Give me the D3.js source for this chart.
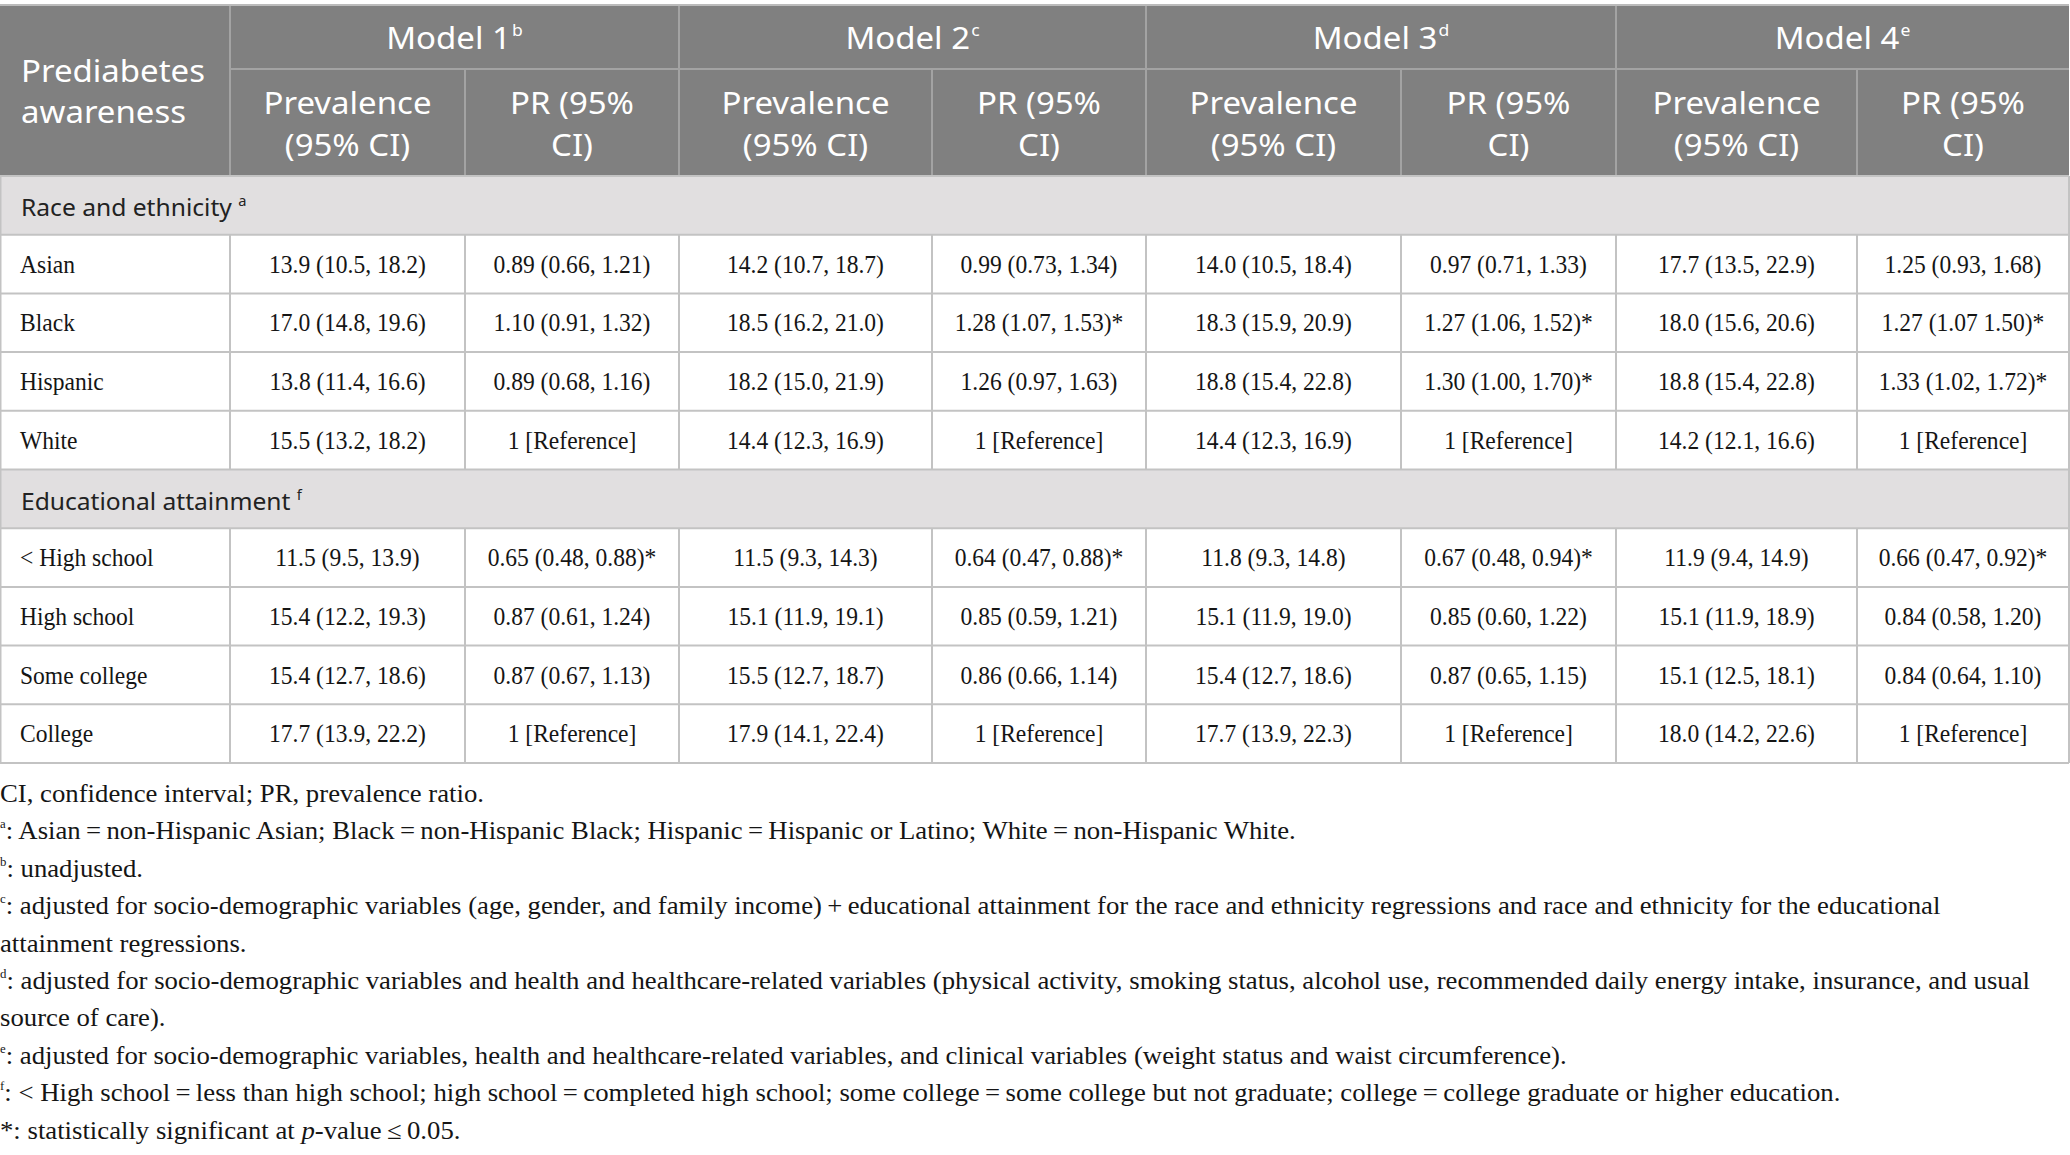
<!DOCTYPE html>
<html><head><meta charset="utf-8">
<script src="https://cdn.jsdelivr.net/npm/d3@7"></script>
<style>body{margin:0;background:#fff}svg{display:block}</style>
</head><body><svg id="c" width="2070" height="1155"></svg>
<script>
// ---------- data ----------
const models = ["Model 1", "Model 2", "Model 3", "Model 4"];
const modelSup = ["b", "c", "d", "e"];
const subHeaders = [["Prevalence", "(95% CI)"], ["PR (95%", "CI)"]];
const stubHeader = ["Prediabetes", "awareness"];
const sectionNames = ["Race and ethnicity", "Educational attainment"];
const sectionSup = ["a", "f"];
const raceRows = ["Asian", "Black", "Hispanic", "White"];
const eduRows = ["< High school", "High school", "Some college", "College"];

const asian    = ["13.9 (10.5, 18.2)", "0.89 (0.66, 1.21)", "14.2 (10.7, 18.7)", "0.99 (0.73, 1.34)", "14.0 (10.5, 18.4)", "0.97 (0.71, 1.33)", "17.7 (13.5, 22.9)", "1.25 (0.93, 1.68)"];
const black    = ["17.0 (14.8, 19.6)", "1.10 (0.91, 1.32)", "18.5 (16.2, 21.0)", "1.28 (1.07, 1.53)*", "18.3 (15.9, 20.9)", "1.27 (1.06, 1.52)*", "18.0 (15.6, 20.6)", "1.27 (1.07 1.50)*"];
const hispanic = ["13.8 (11.4, 16.6)", "0.89 (0.68, 1.16)", "18.2 (15.0, 21.9)", "1.26 (0.97, 1.63)", "18.8 (15.4, 22.8)", "1.30 (1.00, 1.70)*", "18.8 (15.4, 22.8)", "1.33 (1.02, 1.72)*"];
const white    = ["15.5 (13.2, 18.2)", "1 [Reference]", "14.4 (12.3, 16.9)", "1 [Reference]", "14.4 (12.3, 16.9)", "1 [Reference]", "14.2 (12.1, 16.6)", "1 [Reference]"];
const lessHS   = ["11.5 (9.5, 13.9)", "0.65 (0.48, 0.88)*", "11.5 (9.3, 14.3)", "0.64 (0.47, 0.88)*", "11.8 (9.3, 14.8)", "0.67 (0.48, 0.94)*", "11.9 (9.4, 14.9)", "0.66 (0.47, 0.92)*"];
const highSch  = ["15.4 (12.2, 19.3)", "0.87 (0.61, 1.24)", "15.1 (11.9, 19.1)", "0.85 (0.59, 1.21)", "15.1 (11.9, 19.0)", "0.85 (0.60, 1.22)", "15.1 (11.9, 18.9)", "0.84 (0.58, 1.20)"];
const someCol  = ["15.4 (12.7, 18.6)", "0.87 (0.67, 1.13)", "15.5 (12.7, 18.7)", "0.86 (0.66, 1.14)", "15.4 (12.7, 18.6)", "0.87 (0.65, 1.15)", "15.1 (12.5, 18.1)", "0.84 (0.64, 1.10)"];
const college  = ["17.7 (13.9, 22.2)", "1 [Reference]", "17.9 (14.1, 22.4)", "1 [Reference]", "17.7 (13.9, 22.3)", "1 [Reference]", "18.0 (14.2, 22.6)", "1 [Reference]"];

const raceValues = [asian, black, hispanic, white];
const eduValues = [lessHS, highSch, someCol, college];

const eq = "\u2009=\u2009";
const footnotes = [
  {sup: "", text: "CI, confidence interval; PR, prevalence ratio."},
  {sup: "a", text: ": Asian" + eq + "non-Hispanic Asian; Black" + eq + "non-Hispanic Black; Hispanic" + eq + "Hispanic or Latino; White" + eq + "non-Hispanic White."},
  {sup: "b", text: ": unadjusted."},
  {sup: "c", text: ": adjusted for socio-demographic variables (age, gender, and family income)\u2009+\u2009educational attainment for the race and ethnicity regressions and race and ethnicity for the educational"},
  {sup: "", text: "attainment regressions."},
  {sup: "d", text: ": adjusted for socio-demographic variables and health and healthcare-related variables (physical activity, smoking status, alcohol use, recommended daily energy intake, insurance, and usual"},
  {sup: "", text: "source of care)."},
  {sup: "e", text: ": adjusted for socio-demographic variables, health and healthcare-related variables, and clinical variables (weight status and waist circumference)."},
  {sup: "f", text: ": < High school" + eq + "less than high school; high school" + eq + "completed high school; some college" + eq + "some college but not graduate; college" + eq + "college graduate or higher education."},
  {sup: "", text: "*: statistically significant at ", italic: "p", tail: "-value\u2009\u2264\u20090.05."}
];

// ---------- layout ----------
const W = 2070;
const SANS = "'Noto Sans', 'Open Sans', sans-serif";
const SERIF = "'Liberation Serif', 'DejaVu Serif', serif";
const colEdges = [0, 230, 465, 679, 932, 1146, 1401, 1616, 1857, 2069];
const headTop = 5, headMid = 69, headBot = 176, tableBot = 763;
const HEAD_BG = "#808080", HEAD_LINE = "#a3a3a3", SEC_BG = "#e1dfe0", LINE = "#c3c3c3";
const INK = "#151515";

const svg = d3.select("#c");
svg.append("rect").attr("width", W).attr("height", 1155).attr("fill", "#fff");

// body rows through a band scale
const bodyRows = [];
sectionNames.forEach((s, si) => {
  bodyRows.push({type: "section", label: s, sup: sectionSup[si]});
  const labels = si === 0 ? raceRows : eduRows;
  const vals = si === 0 ? raceValues : eduValues;
  labels.forEach((l, i) => bodyRows.push({type: "data", label: l, values: vals[i]}));
});
const y = d3.scaleBand().domain(d3.range(bodyRows.length)).range([headBot, tableBot]).paddingInner(0).paddingOuter(0);
const colIndex = d3.range(colEdges.length - 1);
const xL = d3.scaleOrdinal().domain(colIndex).range(colEdges.slice(0, -1));
const xR = d3.scaleOrdinal().domain(colIndex).range(colEdges.slice(1));
const xC = c => (xL(c) + xR(c)) / 2;

// condensation factors (reference typeface is narrower than the installed ones)
function measure(str, font, size) {
  const t = svg.append("text").attr("font-family", font).attr("font-size", size).text(str);
  const w = t.node().getComputedTextLength();
  t.remove();
  return w;
}
const SERIF_SIZE = 24.5;
const kSerif = 157 / measure("15.4 (12.2, 19.3)", SERIF, SERIF_SIZE);
const FOOT_SIZE = 25;
const kFoot = 2038 / measure("d" + footnotes[5].text, SERIF, FOOT_SIZE);
const HEAD_SIZE = 30;
const kHead = 168 / measure("Prevalence", SANS, HEAD_SIZE);
const SEC_SIZE = 23.5;
const kSec = 211 / measure("Race and ethnicity", SANS, SEC_SIZE);

// ---------- header ----------
const head = svg.append("g");
head.append("rect").attr("x", 0).attr("y", headTop).attr("width", W - 1).attr("height", headBot - headTop).attr("fill", HEAD_BG);
head.append("line").attr("x1", colEdges[1]).attr("x2", colEdges[9]).attr("y1", headMid).attr("y2", headMid)
  .attr("stroke", HEAD_LINE).attr("stroke-width", 2);
head.selectAll("line.v").data(colIndex.slice(1)).join("line").attr("class", "v")
  .attr("x1", c => xL(c)).attr("x2", c => xL(c))
  .attr("y1", c => (c % 2 === 1) ? headTop : headMid).attr("y2", headBot)
  .attr("stroke", HEAD_LINE).attr("stroke-width", 2);

// stub header
head.selectAll("text.stub").data(stubHeader).join("text").attr("class", "stub")
  .attr("transform", (d, i) => `translate(21,${82 + i * 41}) scale(${kHead},1)`)
  .attr("font-family", SANS).attr("font-size", HEAD_SIZE).attr("fill", "#fff").text(d => d);

// model headers
const mh = head.selectAll("text.model").data(models).join("text").attr("class", "model")
  .attr("transform", (d, i) => `translate(${(xL(1 + 2 * i) + xR(2 + 2 * i)) / 2},49) scale(${kHead},1)`)
  .attr("text-anchor", "middle").attr("font-family", SANS).attr("font-size", HEAD_SIZE).attr("fill", "#fff");
mh.append("tspan").text(d => d);
mh.append("tspan").attr("font-size", 16).attr("dy", -13).attr("dx", 1).text((d, i) => modelSup[i]);

// sub headers
const subs = [];
models.forEach((m, i) => subHeaders.forEach((s, j) => s.forEach((line, k) => subs.push({col: 1 + 2 * i + j, line, k}))));
head.selectAll("text.sub").data(subs).join("text").attr("class", "sub")
  .attr("transform", d => `translate(${xC(d.col)},${114 + d.k * 42}) scale(${kHead},1)`)
  .attr("text-anchor", "middle").attr("font-family", SANS).attr("font-size", HEAD_SIZE).attr("fill", "#fff")
  .text(d => d.line);

// ---------- body ----------
const body = svg.append("g");
const indexed = bodyRows.map((r, i) => ({...r, i}));
body.selectAll("rect.sec").data(indexed.filter(r => r.type === "section")).join("rect")
  .attr("class", "sec").attr("x", 0).attr("width", W - 1).attr("y", d => y(d.i)).attr("height", y.bandwidth())
  .attr("fill", SEC_BG);

body.selectAll("line.h").data(d3.range(bodyRows.length + 1)).join("line").attr("class", "h")
  .attr("x1", 0).attr("x2", W - 1)
  .attr("y1", i => i < bodyRows.length ? y(i) : tableBot).attr("y2", i => i < bodyRows.length ? y(i) : tableBot)
  .attr("stroke", LINE).attr("stroke-width", 2);

const vSegs = [];
indexed.forEach(r => { if (r.type === "data") colIndex.slice(1).forEach(c => vSegs.push({i: r.i, c})); });
body.selectAll("line.v").data(vSegs).join("line").attr("class", "v")
  .attr("x1", d => xL(d.c)).attr("x2", d => xL(d.c)).attr("y1", d => y(d.i)).attr("y2", d => y(d.i) + y.bandwidth())
  .attr("stroke", LINE).attr("stroke-width", 2);
[0.5, W - 1].forEach(xx => body.append("line").attr("x1", xx).attr("x2", xx).attr("y1", headBot).attr("y2", tableBot)
  .attr("stroke", LINE).attr("stroke-width", 2));
svg.append("line").attr("x1", 0).attr("x2", W - 1).attr("y1", headTop).attr("y2", headTop).attr("stroke", "#bbb").attr("stroke-width", 2);

// section labels
const secT = body.selectAll("text.seclab").data(indexed.filter(r => r.type === "section")).join("text")
  .attr("class", "seclab")
  .attr("transform", d => `translate(21,${y(d.i) + 40}) scale(${kSec},1)`)
  .attr("font-family", SANS).attr("font-size", SEC_SIZE).attr("fill", "#222");
secT.append("tspan").text(d => d.label + " ");
secT.append("tspan").attr("font-size", 14).attr("dy", -10).text(d => d.sup);

// row labels
const dataRows = indexed.filter(r => r.type === "data");
body.selectAll("text.rowlab").data(dataRows).join("text").attr("class", "rowlab")
  .attr("transform", d => `translate(20,${y(d.i) + 38}) scale(${kSerif},1)`)
  .attr("font-family", SERIF).attr("font-size", SERIF_SIZE).attr("fill", INK).text(d => d.label);

// cells
const cells = [];
dataRows.forEach(r => r.values.forEach((v, j) => cells.push({i: r.i, c: j + 1, v})));
body.selectAll("text.cell").data(cells).join("text").attr("class", "cell")
  .attr("transform", d => `translate(${xC(d.c)},${y(d.i) + 38}) scale(${kSerif},1)`)
  .attr("text-anchor", "middle").attr("font-family", SERIF).attr("font-size", SERIF_SIZE).attr("fill", INK)
  .text(d => d.v);

// ---------- footnotes ----------
const foot = svg.append("g");
const ft = foot.selectAll("text").data(footnotes).join("text")
  .attr("transform", (d, i) => `translate(0,${802 + i * 37.4}) scale(${kFoot},1)`)
  .attr("font-family", SERIF).attr("font-size", FOOT_SIZE).attr("fill", INK);
ft.filter(d => d.sup).append("tspan").attr("font-size", 12).attr("dy", -11).text(d => d.sup);
ft.append("tspan").attr("dy", d => d.sup ? 11 : 0).text(d => d.text);
ft.filter(d => d.italic).append("tspan").attr("font-style", "italic").text(d => d.italic);
ft.filter(d => d.tail).append("tspan").text(d => d.tail);
</script>
</body></html>
